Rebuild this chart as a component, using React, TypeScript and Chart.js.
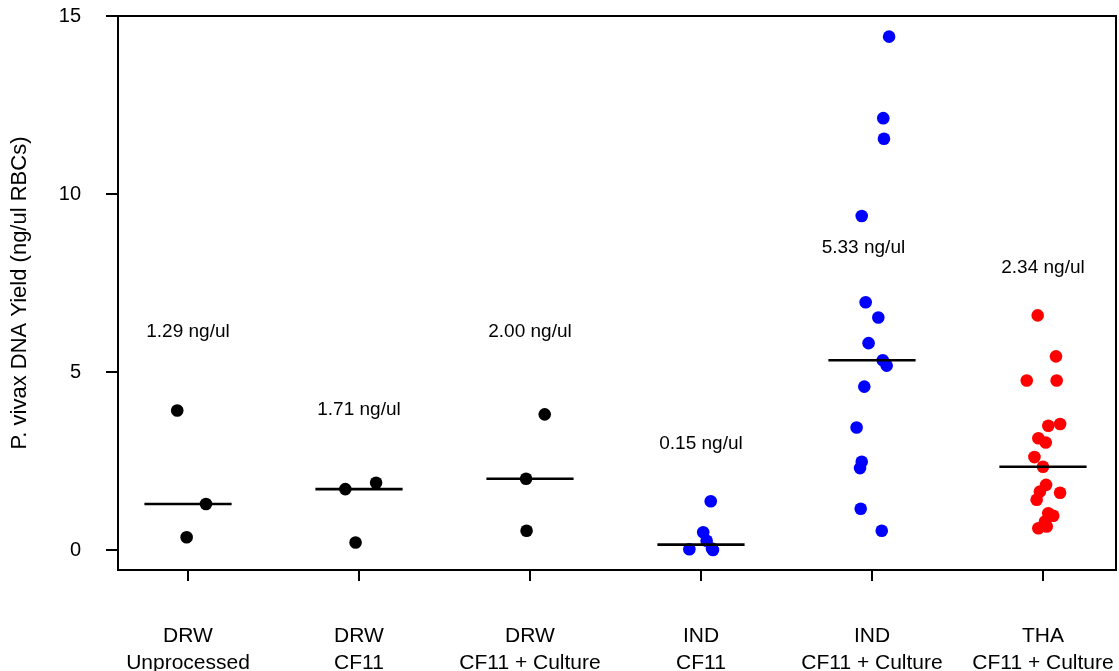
import React, { useEffect, useRef } from "react";
import { Chart, registerables } from "chart.js";

Chart.register(...registerables);

const FONT = "'Liberation Sans', Arial, Helvetica, sans-serif";

const categories: string[][] = [
  ["DRW", "Unprocessed"],
  ["DRW", "CF11"],
  ["DRW", "CF11 + Culture"],
  ["IND", "CF11"],
  ["IND", "CF11 + Culture"],
  ["THA", "CF11 + Culture"],
];

const groupColors = ["#000000", "#000000", "#000000", "#0000FF", "#0000FF", "#FF0000"];

// Measured yields (ng/ul RBCs) per group
const drwUnprocessed = [3.92, 1.29, 0.36];
const drwCF11 = [1.71, 1.89, 0.21];
const drwCF11Culture = [3.81, 2.0, 0.54];
const indCF11 = [1.37, 0.5, 0.26, 0.04, 0.02, 0.0];
const indCF11Culture = [14.42, 12.13, 11.55, 9.38, 6.96, 6.53, 5.81, 5.33, 5.18, 4.59, 3.44, 2.48, 2.3, 1.16, 0.54];
const thaCF11Culture = [6.59, 5.44, 4.76, 4.76, 3.54, 3.49, 3.14, 3.02, 2.61, 2.34, 1.83, 1.64, 1.61, 1.41, 1.03, 0.96, 0.8, 0.61, 0.66];

// Horizontal jitter (category units)
const drwUnprocessedJitter = [-0.063, 0.105, -0.008];
const drwCF11Jitter = [-0.08, 0.1, -0.02];
const drwCF11CultureJitter = [0.086, -0.023, -0.02];
const indCF11Jitter = [0.057, 0.013, 0.033, 0.064, -0.068, 0.07];
const indCF11CultureJitter = [0.1, 0.066, 0.07, -0.06, -0.037, 0.037, -0.02, 0.063, 0.086, -0.045, -0.09, -0.06, -0.07, -0.066, 0.057];
const thaCF11CultureJitter = [-0.031, 0.076, -0.095, 0.08, 0.1, 0.031, -0.027, 0.016, -0.05, 0.0, 0.018, -0.018, 0.1, -0.037, 0.031, 0.06, 0.012, -0.027, 0.022];

const groupValues = [drwUnprocessed, drwCF11, drwCF11Culture, indCF11, indCF11Culture, thaCF11Culture];
const groupJitter = [drwUnprocessedJitter, drwCF11Jitter, drwCF11CultureJitter, indCF11Jitter, indCF11CultureJitter, thaCF11CultureJitter];

const medians = [1.29, 1.71, 2.0, 0.15, 5.33, 2.34];
const medianLabels = ["1.29 ng/ul", "1.71 ng/ul", "2.00 ng/ul", "0.15 ng/ul", "5.33 ng/ul", "2.34 ng/ul"];
const labelX = [1, 2, 3, 4, 4.95, 6];
const labelY = [6.13, 3.94, 6.13, 2.98, 8.49, 7.94];

const yTicks = [0, 5, 10, 15];
const yTitle = "P. vivax DNA Yield (ng/ul RBCs)";
const MEDIAN_HALF = 0.255;

const extrasPlugin = {
  id: "extras",
  afterDatasetsDraw(chart: any) {
    const { ctx, chartArea, scales } = chart;
    ctx.save();
    ctx.strokeStyle = "#000";
    ctx.lineWidth = 2;
    ctx.strokeRect(chartArea.left, chartArea.top, chartArea.right - chartArea.left, chartArea.bottom - chartArea.top);
    ctx.fillStyle = "#000";
    ctx.font = `19px ${FONT}`;
    ctx.textAlign = "center";
    ctx.textBaseline = "middle";
    medianLabels.forEach((t, i) => {
      ctx.fillText(t, scales.x.getPixelForValue(labelX[i]), scales.y.getPixelForValue(labelY[i]));
    });
    ctx.restore();
  },
};

export default function App() {
  const ref = useRef<HTMLCanvasElement | null>(null);

  useEffect(() => {
    document.body.style.margin = "0";
    const canvas = ref.current;
    if (!canvas) return;

    const pointSets = groupValues.map((vals, g) => ({
      type: "scatter" as const,
      data: vals.map((v, k) => ({ x: g + 1 + groupJitter[g][k], y: v })),
      backgroundColor: groupColors[g],
      borderWidth: 0,
      pointRadius: 6.3,
      pointHoverRadius: 6.3,
      order: 2,
    }));
    const medianSets = medians.map((m, g) => ({
      type: "scatter" as const,
      data: [
        { x: g + 1 - MEDIAN_HALF, y: m },
        { x: g + 1 + MEDIAN_HALF, y: m },
      ],
      showLine: true,
      borderColor: "#000",
      borderWidth: 2.6,
      pointRadius: 0,
      order: 1,
    }));

    const chart = new Chart(canvas, {
      type: "scatter",
      data: { datasets: [...medianSets, ...pointSets] as any },
      plugins: [extrasPlugin],
      options: {
        animation: false,
        responsive: false,
        devicePixelRatio: 1,
        layout: { autoPadding: false, padding: { top: 16, right: 3, left: 0, bottom: 0 } },
        plugins: { legend: { display: false }, tooltip: { enabled: false } },
        scales: {
          x: {
            type: "linear",
            min: 0.5906,
            max: 6.427,
            afterBuildTicks: (s: any) => {
              s.ticks = categories.map((_, i) => ({ value: i + 1 }));
            },
            afterFit: (s: any) => {
              s.height = 101;
              s.paddingLeft = 0;
              s.paddingRight = 0;
            },
            ticks: {
              callback: (_v: any, i: number) => categories[i],
              font: { family: FONT, size: 21, lineHeight: 1.28 },
              color: "#000",
              padding: 42,
              maxRotation: 0,
              autoSkip: false,
            },
            grid: { display: true, drawOnChartArea: false, drawTicks: true, tickLength: 11, color: "#000", lineWidth: 2 },
            border: { display: false },
          },
          y: {
            type: "linear",
            min: -0.562,
            max: 15,
            afterBuildTicks: (s: any) => {
              s.ticks = yTicks.map((v) => ({ value: v }));
            },
            afterFit: (s: any) => {
              s.width = 118;
              s.paddingTop = 0;
              s.paddingBottom = 0;
            },
            ticks: {
              font: { family: FONT, size: 20 },
              color: "#000",
              padding: 25,
            },
            grid: { display: true, drawOnChartArea: false, drawTicks: true, tickLength: 12, color: "#000", lineWidth: 2 },
            border: { display: false },
            title: {
              display: true,
              text: yTitle,
              color: "#000",
              font: { family: FONT, size: 22 },
              padding: { top: 7, bottom: 0 },
            },
          },
        },
      } as any,
    });
    return () => chart.destroy();
  }, []);

  return (
    <div style={{ width: 1119, height: 671 }}>
      <canvas ref={ref} width={1119} height={671} style={{ display: "block" }} />
    </div>
  );
}
